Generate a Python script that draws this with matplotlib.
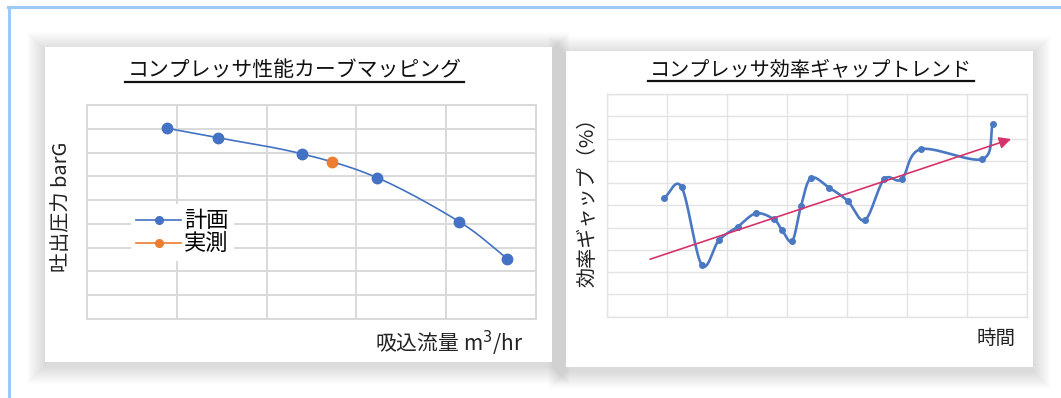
import numpy as np
import matplotlib
matplotlib.use('Agg')
import matplotlib.pyplot as plt
from matplotlib.patches import Rectangle, FancyArrowPatch
from matplotlib.lines import Line2D

plt.rcParams['font.family'] = ['Noto Sans CJK JP', 'DejaVu Sans']

# ---- data (grid units) ----
flow_plan = [0.894, 1.462, 2.39, 3.233, 4.146, 4.68]
pres_plan = [8.02, 7.62, 6.95, 5.94, 4.09, 2.54]
flow_meas = [2.725]
pres_meas = [6.59]

t_gap = [0.947, 1.237, 1.571, 1.859, 2.171, 2.476, 2.776, 2.910, 3.081, 3.227,
         3.393, 3.698, 4.005, 4.294, 4.611, 4.906, 5.223, 6.250, 6.423]
gap = [5.34, 5.81, 2.32, 3.44, 4.04, 4.64, 4.37, 3.89, 3.40, 4.97,
       6.23, 5.79, 5.20, 4.34, 6.17, 6.17, 7.52, 7.08, 8.64]
trend_t = [0.709, 6.73]
trend_gap = [2.58, 7.98]

title_l = 'コンプレッサ性能カーブマッピング'
title_r = 'コンプレッサ効率ギャップトレンド'

BLUE = '#4472C4'
ORANGE = '#ED7D31'
W, H = 1061, 398


def smooth(x, y, n=30):
    # catmull-rom through the points, like the "smoothed line" option
    p = np.column_stack([x, y]).astype(float)
    p = np.vstack([2 * p[0] - p[1], p, 2 * p[-1] - p[-2]])
    out = []
    s = np.linspace(0, 1, n)[:, None]
    for i in range(1, len(p) - 2):
        p0, p1, p2, p3 = p[i - 1], p[i], p[i + 1], p[i + 2]
        seg = 0.5 * ((2 * p1) + (-p0 + p2) * s + (2 * p0 - 5 * p1 + 4 * p2 - p3) * s ** 2
                     + (-p0 + 3 * p1 - 3 * p2 + p3) * s ** 3)
        out.append(seg)
    out = np.vstack(out)
    return out[:, 0], out[:, 1]


def px(x0, y0, x1, y1):
    # pixel box (top-left origin) -> figure fraction
    return [x0 / W, 1 - y1 / H, (x1 - x0) / W, (y1 - y0) / H]


fig = plt.figure(figsize=(10.61, 3.98), dpi=100)
fig.patch.set_facecolor('white')

# page border (light blue)
fig.add_artist(Line2D([8 / W, 1], [1 - 7 / H, 1 - 7 / H], color='#9CC9F7', lw=2.2, zorder=-5))
fig.add_artist(Line2D([8.5 / W, 8.5 / W], [0, 1 - 7 / H], color='#9CC9F7', lw=2.2, zorder=-5))

# cards with soft shadows
for (x0, y0, x1, y1) in [(45, 47, 552, 362), (566, 51, 1033, 367)]:
    for k in range(18, 0, -1):
        b = px(x0 - k, y0 - k + 3, x1 + k, y1 + k + 4)
        fig.add_artist(Rectangle((b[0], b[1]), b[2], b[3], transform=fig.transFigure,
                                 facecolor='black', edgecolor='none', alpha=0.0062,
                                 zorder=-4))
    b = px(x0, y0, x1, y1)
    fig.add_artist(Rectangle((b[0], b[1]), b[2], b[3], transform=fig.transFigure,
                             facecolor='white', edgecolor='none', zorder=-3))

# ---- left chart ----
axl = fig.add_axes(px(87, 105, 536, 319))
axl.set_xlim(0, 5)
axl.set_ylim(0, 9)
axl.set_xticks(range(6))
axl.set_yticks(range(10))
axl.grid(True, color='#D9D9D9', lw=1.4)
axl.tick_params(length=0, labelleft=False, labelbottom=False)
for s in axl.spines.values():
    s.set_color('#D9D9D9')
    s.set_linewidth(1.4)
axl.set_axisbelow(True)
sx, sy = smooth(flow_plan, pres_plan)
axl.plot(sx, sy, color=BLUE, lw=1.2, zorder=3)
axl.plot(flow_plan, pres_plan, 'o', color=BLUE, ms=7.5, zorder=4)
axl.plot(flow_meas, pres_meas, 'o', color=ORANGE, ms=7.5, zorder=4)
h1 = Line2D([], [], color=BLUE, marker='o', ms=5.5, lw=1.2)
h2 = Line2D([], [], color=ORANGE, marker='o', ms=5.5, lw=1.2)
leg = axl.legend([h1, h2], ['計画', '実測'], loc='center', bbox_to_anchor=(0.213, 0.405),
                 frameon=True, fontsize=16, handlelength=2.0, handletextpad=0.15,
                 labelspacing=0.0, borderpad=0.25, fancybox=False)
leg.get_frame().set_edgecolor('none')
leg.get_frame().set_facecolor('white')
leg.get_frame().set_alpha(1)

fig.text(61.5 / W, 1 - 207 / H, '吐出圧力 barG', rotation=90, fontsize=14.5,
         ha='center', va='center', color='#222222')
fig.text(523 / W, 1 - 343 / H, '吸込流量 m$^3$/hr', fontsize=15,
         ha='right', va='center', color='#222222')

# ---- right chart ----
axr = fig.add_axes(px(607.5, 94, 1027.3, 316.7))
axr.set_xlim(0, 7)
axr.set_ylim(0, 10)
axr.set_xticks(range(8))
axr.set_yticks(range(11))
axr.grid(True, color='#E3E3E3', lw=1.0)
axr.tick_params(length=0, labelleft=False, labelbottom=False)
for s in axr.spines.values():
    s.set_color('#E3E3E3')
    s.set_linewidth(1.0)
axr.set_axisbelow(True)
tx, ty = smooth(t_gap, gap)
axr.plot(tx, ty, color='#4A78C2', lw=1.9, zorder=3)
axr.plot(t_gap, gap, 'o', color='#4A78C2', ms=4, zorder=4)
axr.add_patch(FancyArrowPatch((trend_t[0], trend_gap[0]), (trend_t[1], trend_gap[1]),
                              arrowstyle='-|>,head_length=7,head_width=3.5',
                              color='#D6336C', lw=1.2, zorder=5, shrinkA=0, shrinkB=0))

fig.text(588 / W, 1 - 197 / H, '効率ギャップ（%）', rotation=90, fontsize=14.5,
         ha='center', va='center', color='#222222')
fig.text(1015 / W, 1 - 338 / H, '時間', fontsize=14, ha='right', va='center',
         color='#222222')

# titles with underline
tl = fig.text(294.5 / W, 1 - 70 / H, title_l, fontsize=15, ha='center', va='center',
              color='#111111')
tr = fig.text(811 / W, 1 - 71 / H, title_r, fontsize=14.5, ha='center', va='center',
              color='#111111')
fig.canvas.draw()
r = fig.canvas.get_renderer()
for t, uy in [(tl, 81.7), (tr, 81)]:
    bb = t.get_window_extent(r)
    fig.add_artist(Line2D([bb.x0 / W - 0.002, bb.x1 / W + 0.002], [1 - uy / H, 1 - uy / H],
                          color='#111111', lw=1.6))

fig.savefig('out.png', dpi=100)
